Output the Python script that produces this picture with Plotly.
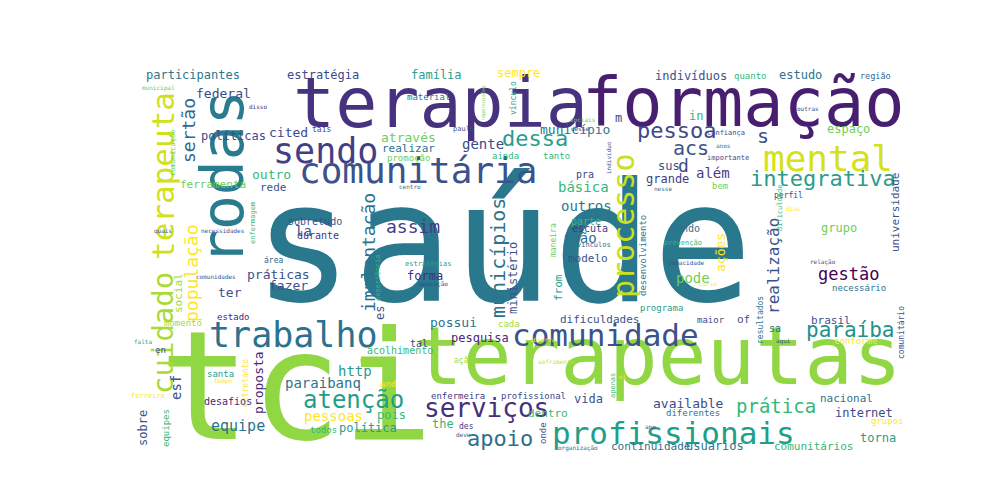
import plotly.graph_objects as go

# 词云数据: 词, 中心x, 中心y (像素), 字号, 颜色, 是否竖排
words = ["saúde", "tci", "terapeutas", "terapia", "formação", "rodas", "terapeuta", "cuidado",
         "sendo", "comunitária", "trabalho", "comunidade", "profissionais", "processo", "mental",
         "integrativa", "serviços", "apoio", "atenção", "prática", "paraíba", "gestão", "realização",
         "pessoa", "s", "acs", "d", "sus", "além", "grande", "in", "indivíduos", "quanto", "estudo",
         "região", "espaço", "universidade", "comunitário", "grupo", "necessário", "brasil", "sa",
         "conforme", "aqui", "resultados", "nacional", "internet", "grupos", "available", "diferentes",
         "torna", "comunitários", "usuários", "continuidade", "dentro", "vida", "the", "des", "onde",
         "apenas", "enfermeira", "profissional", "pesquisa", "possui", "cada", "dificuldades", "tal",
         "ação", "forma", "municípios", "ministério", "from", "modelo", "desenvolvimento", "programa",
         "joão", "outros", "parte", "escuta", "maneira", "vínculos", "básica", "pra", "tanto", "ainda",
         "dessa", "gente", "município", "m", "através", "realizar", "promoção", "família", "sempre",
         "estratégia", "vínculo", "repercussões", "participantes", "municipal", "federal", "sertão",
         "disso", "material", "cited", "tais", "políticas", "comunicação", "outro", "ferramenta", "rede",
         "sobretudo", "la", "durante", "implantação", "assim", "população", "social", "práticas", "fazer",
         "ter", "área", "estado", "momento", "es", "http", "paraibanq", "proposta", "entretanto", "santa",
         "desafios", "pessoas", "equipe", "esf", "sobre", "equipes", "política", "pois", "todos",
         "acolhimento", "ferreira", "falta", "en", "filha", "tempo", "and", "experiência", "enfermagem",
         "necessidades", "quais", "comunidades", "estratégias", "educação", "sofrimento", "observa",
         "el", "ano", "deve", "organização", "of", "maior", "pode", "ações", "tendo", "prevenção",
         "confiança", "anos", "importante", "bem", "nesse", "perfil", "dias", "outras", "capacidade",
         "curso", "relação", "centro", "paulo", "sociais", "desse", "indivíduo", "dificuldade"]
xs = [495, 288, 650, 432, 735, 215, 155, 155,
      317, 410, 285, 597, 665, 615, 820,
      815, 478, 492, 345, 768, 842, 840, 765,
      668, 755, 683, 675, 661, 705, 659, 688, 683, 742, 792,
      867, 840, 887, 893, 831, 851, 823, 767,
      847, 775, 752, 838, 856, 879, 680, 685,
      870, 805, 707, 642, 540, 580, 435, 458, 535,
      605, 450, 525, 472, 445, 501, 591, 411,
      455, 417, 490, 505, 550, 580, 635, 653,
      572, 578, 578, 582, 545, 586, 575, 577, 548, 497,
      527, 475, 567, 610, 400, 400, 400, 428, 510,
      315, 505, 475, 185, 150, 215, 180,
      250, 420, 280, 313, 225, 165, 263, 205, 265,
      307, 295, 310, 360, 405, 183, 170, 270, 280,
      222, 265, 225, 175, 372, 347, 315, 250, 237, 212,
      220, 325, 230, 168, 135, 158, 360, 383, 315,
      392, 140, 135, 152, 360, 215, 380, 370, 245,
      215, 155, 208, 420, 425, 548, 535,
      615, 642, 455, 570, 735, 703, 685, 712, 677, 675,
      718, 715, 720, 712, 655, 780, 785, 800, 678,
      700, 815, 402, 455, 575, 572, 600, 772]
ys = [235, 378, 348, 95, 95, 170, 168, 325,
      143, 162, 327, 327, 425, 218, 150,
      170, 400, 430, 392, 398, 322, 266, 258,
      122, 128, 140, 157, 158, 165, 171, 108, 68, 68, 67,
      68, 121, 205, 325, 220, 280, 312, 320,
      333, 333, 312, 390, 405, 413, 395, 405,
      430, 438, 438, 438, 405, 391, 416, 418, 425,
      378, 388, 388, 330, 314, 316, 311, 335,
      352, 268, 250, 270, 280, 250, 248, 300,
      230, 198, 213, 220, 232, 237, 179, 166, 148, 148,
      130, 136, 121, 110, 129, 140, 150, 67, 65,
      67, 90, 95, 67, 80, 85, 123,
      98, 89, 124, 121, 128, 145, 166, 176, 179,
      213, 223, 227, 245, 218, 265, 285, 266, 277,
      284, 252, 309, 315, 305, 363, 375, 375, 375, 366,
      393, 408, 418, 380, 420, 420, 420, 407, 422,
      342, 388, 333, 342, 352, 373, 376, 270, 215,
      222, 223, 268, 256, 276, 353, 331,
      368, 418, 426, 440, 311, 312, 270, 245, 220, 235,
      125, 137, 150, 178, 180, 187, 200, 100, 255,
      275, 254, 178, 121, 111, 120, 150, 200]
sizes = [166, 152, 81, 70, 67, 58, 31, 29,
         35, 36, 35, 31, 31, 30, 36,
         22, 26, 22, 24, 19, 21, 17, 16,
         22, 20, 20, 18, 12, 14, 12, 12, 12, 9, 12,
         8.5, 12, 11, 8, 12, 9, 11, 10,
         9, 6, 8, 11, 12, 9, 13, 9,
         12, 11, 12, 11, 11, 12, 12, 8, 9,
         7, 9, 9, 12, 13, 9, 11, 10,
         8, 12, 20, 12, 11, 11, 9, 9,
         14, 14, 10, 10, 8, 7, 14, 10, 9, 9,
         22, 14, 13, 12, 13, 11, 9, 12, 12,
         12, 8, 5, 12, 6, 13, 18,
         6, 9, 13, 8, 12, 7, 13, 11, 11,
         10, 14, 10, 18, 18, 18, 11, 13, 13,
         13, 8, 9, 9, 12, 14, 14, 13, 8, 9,
         10, 14, 15, 14, 12, 9, 12, 12, 9,
         10, 7, 6, 9, 6, 6, 9, 7, 7,
         6, 6, 6, 7, 6, 6, 6,
         6, 6, 6, 6, 11, 9, 14, 13, 10, 7,
         7, 6, 7, 9, 6, 8, 6, 6, 6,
         6, 6, 6, 7, 6, 6, 6, 7]
colors = ["#2a788e", "#90d743", "#90d743", "#46327e", "#481f70", "#287c8e", "#d0e11c", "#a8db34",
          "#433e85", "#3b528b", "#2c728e", "#3b528b", "#1f9e89", "#c8e020", "#d5e21a",
          "#2a9d8c", "#46307e", "#2e6f8e", "#1f9e89", "#35b779", "#21918c", "#440154", "#3b528b",
          "#3e4989", "#3b528b", "#3b528b", "#3e4989", "#3b528b", "#433e85", "#433e85", "#35b779", "#3b528b", "#35b779", "#2c728e",
          "#31688e", "#6ece58", "#3b528b", "#3e4989", "#6ece58", "#2c728e", "#3b528b", "#2c728e",
          "#fde725", "#3b528b", "#2c728e", "#2c728e", "#3e4989", "#fde725", "#3e4989", "#2c728e",
          "#2a9d8c", "#35b779", "#2c728e", "#2c728e", "#35b779", "#3b528b", "#35b779", "#443983", "#3b528b",
          "#35b779", "#443983", "#3e4989", "#482878", "#2c728e", "#a0da39", "#3b528b", "#3e4989",
          "#a0da39", "#46307e", "#2c728e", "#3b528b", "#2a9d8c", "#3b528b", "#2c728e", "#2a9d8c",
          "#2c728e", "#2a788e", "#35b779", "#443983", "#6ece58", "#31688e", "#35b779", "#3e4989", "#35b779", "#35b779",
          "#2a9d8c", "#3e4989", "#2a788e", "#3e4989", "#6ece58", "#2c728e", "#6ece58", "#2a9d8c", "#fde725",
          "#3e4989", "#2a9d8c", "#6ece58", "#2a788e", "#6ece58", "#3e4989", "#31688e",
          "#46307e", "#2a788e", "#3e4989", "#3e4989", "#3e4989", "#6ece58", "#35b779", "#6ece58", "#3b528b",
          "#3b528b", "#3b528b", "#443983", "#2c728e", "#433e85", "#fde725", "#a0da39", "#3b528b", "#3b528b",
          "#3b528b", "#31688e", "#482878", "#a0da39", "#3b528b", "#2a9d8c", "#2c728e", "#482878", "#fde725", "#2a9d8c",
          "#482878", "#fde725", "#2c728e", "#3b528b", "#3b528b", "#35b779", "#2a9d8c", "#35b779", "#35b779",
          "#35b779", "#fde725", "#2a9d8c", "#3b528b", "#a0da39", "#fde725", "#fde725", "#35b779", "#35b779",
          "#3b528b", "#3b528b", "#3b528b", "#2a9d8c", "#3e4989", "#c8e020", "#fde725",
          "#fde725", "#3b528b", "#3b528b", "#31688e", "#3b528b", "#3e4989", "#6ece58", "#fde725", "#2c728e", "#35b779",
          "#3e4989", "#2c728e", "#3e4989", "#6ece58", "#2c728e", "#3e4989", "#fde725", "#3e4989", "#3b528b",
          "#fde725", "#3b528b", "#31688e", "#3b528b", "#6ece58", "#3b528b", "#3b528b", "#35b779"]
vertical = {"rodas", "terapeuta", "cuidado", "processo", "realização", "universidade", "comunitário",
            "resultados", "onde", "apenas", "municípios", "ministério", "from", "desenvolvimento",
            "maneira", "vínculo", "repercussões", "sertão", "comunicação", "implantação", "população",
            "social", "es", "proposta", "entretanto", "esf", "sobre", "equipes", "experiência",
            "enfermagem", "ações", "indivíduo", "dificuldade"}

fig = go.Figure()
# 透明散点用于建立坐标轴
fig.add_trace(go.Scatter(x=[0, 1000], y=[0, 500], mode="markers",
                         marker=dict(opacity=0), hoverinfo="skip", showlegend=False))

for w, x, y, s, c in zip(words, xs, ys, sizes, colors):
    fig.add_annotation(x=x, y=y, xref="x", yref="y", text=w, showarrow=False,
                       textangle=-90 if w in vertical else 0,
                       font=dict(family="DejaVu Sans Mono", size=s, color=c),
                       xanchor="center", yanchor="middle")

fig.update_layout(
    width=1000, height=500,
    margin=dict(l=0, r=0, t=0, b=0),
    paper_bgcolor="white", plot_bgcolor="white",
    xaxis=dict(range=[0, 1000], visible=False),
    yaxis=dict(range=[500, 0], visible=False),
)
fig.write_html("out.html")
